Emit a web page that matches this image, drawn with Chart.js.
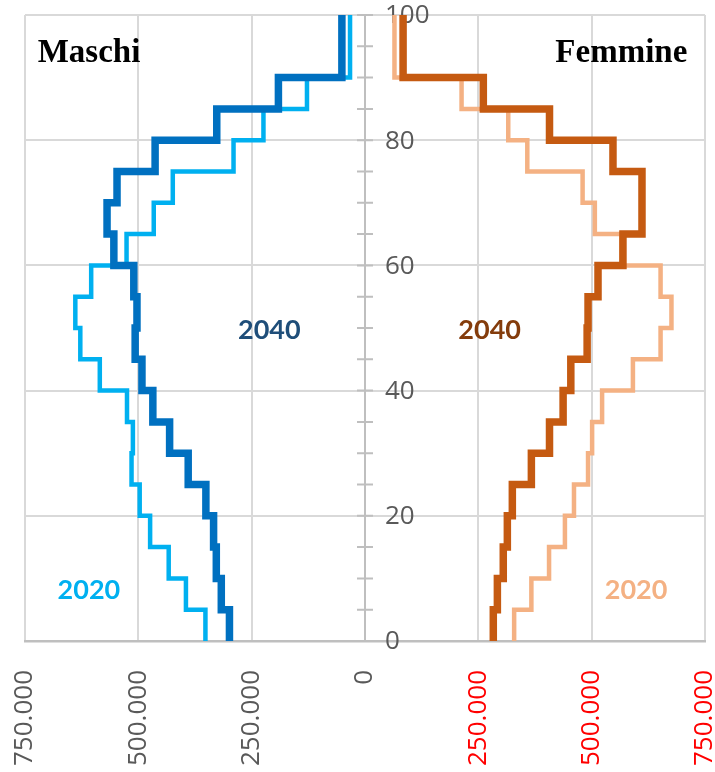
<!DOCTYPE html>
<html>
<head>
<meta charset="utf-8">
<script src="https://cdn.jsdelivr.net/npm/chart.js@4/dist/chart.umd.min.js"></script>
<style>
  html, body { margin: 0; padding: 0; background: #ffffff; }
  #wrap { width: 715px; height: 772px; }
</style>
</head>
<body>
<div id="wrap"><canvas id="c" width="715" height="772"></canvas></div>
<script>
// ---- data ----
// lower bound of each 5-year age group (last group = 90+)
const ageGroupStarts = [0, 5, 10, 15, 20, 25, 30, 35, 40, 45, 50, 55, 60, 65, 70, 75, 80, 85, 90];
const ageMax = 100;

const males2040   = [299000, 317000, 328000, 334000, 351000, 390000, 431000, 468000, 492000, 507000, 503000, 510000, 554000, 569000, 547000, 463000, 327000, 191000, 51000];
const males2020   = [352000, 395000, 433000, 474000, 497000, 515000, 512000, 525000, 585000, 628000, 639000, 604000, 526000, 466000, 424000, 290000, 224000, 128000, 33000];
const females2040 = [283000, 292000, 305000, 314000, 325000, 367000, 407000, 437000, 454000, 490000, 492000, 514000, 569000, 611000, 611000, 547000, 407000, 261000, 84000];
const females2020 = [329000, 367000, 406000, 441000, 461000, 492000, 501000, 523000, 591000, 652000, 676000, 652000, 566000, 507000, 480000, 358000, 316000, 213000, 65000];

const popTickValues = [-750000, -500000, -250000, 0, 250000, 500000, 750000];
const popTickLabels = ['750.000', '500.000', '250.000', '0', '250.000', '500.000', '750.000'];
const ageTickValues = [0, 20, 40, 60, 80, 100];
const ageMinorTicks = [5, 10, 15, 20, 25, 30, 35, 40, 45, 50, 55, 60, 65, 70, 75, 80, 85, 90, 95, 100];

// ---- helpers ----
function buildSteps(values, sign) {
  const pts = values.map((v, i) => ({ x: sign * v, y: ageGroupStarts[i] }));
  pts.push({ x: sign * values[values.length - 1], y: ageMax });
  return pts;
}

const annotations = [
  { text: 'Maschi',  x: -722000, y: 92.5, align: 'left',   color: '#000000', font: 'bold 33px "Liberation Serif"' },
  { text: 'Femmine', x: 711000,  y: 92.5, align: 'right',  color: '#000000', font: 'bold 33px "Liberation Serif"' },
  { text: '2040',    x: -211000, y: 48.2, align: 'center', color: '#1F4E79', font: 'bold 27px Lato' },
  { text: '2040',    x: 275000,  y: 48.2, align: 'center', color: '#843C0C', font: 'bold 27px Lato' },
  { text: '2020',    x: -609000, y: 6.7,  align: 'center', color: '#00B0F0', font: 'bold 27px Lato' },
  { text: '2020',    x: 598000,  y: 6.7,  align: 'center', color: '#F4B183', font: 'bold 27px Lato' }
];

const centerAxis = {
  id: 'centerAxis',
  beforeDatasetsDraw(chart) {
    const { ctx, scales: { x, y } } = chart;
    const x0 = x.getPixelForValue(0);
    ctx.save();
    ctx.strokeStyle = '#BFBFBF';
    ctx.lineWidth = 2;
    ctx.beginPath();
    ctx.moveTo(x0, y.getPixelForValue(y.min));
    ctx.lineTo(x0, y.getPixelForValue(y.max));
    for (const a of ageMinorTicks) {
      const py = y.getPixelForValue(a);
      ctx.moveTo(x0 - 8, py);
      ctx.lineTo(x0 + 8, py);
    }
    ctx.stroke();
    ctx.fillStyle = '#595959';
    ctx.font = '26px "Open Sans"';
    ctx.textAlign = 'left';
    ctx.textBaseline = 'middle';
    for (const t of y.ticks) {
      ctx.fillText(String(t.value), x0 + 20, y.getPixelForValue(t.value) + 1);
    }
    ctx.restore();
  },
  afterDatasetsDraw(chart) {
    const { ctx, scales: { x, y } } = chart;
    ctx.save();
    ctx.textBaseline = 'alphabetic';
    for (const a of annotations) {
      ctx.font = a.font;
      ctx.fillStyle = a.color;
      ctx.textAlign = a.align;
      ctx.fillText(a.text, x.getPixelForValue(a.x), y.getPixelForValue(a.y));
    }
    ctx.restore();
  }
};

const common = { pointRadius: 0, pointHoverRadius: 0, fill: false, stepped: 'after', tension: 0, borderJoinStyle: 'miter', borderCapStyle: 'butt' };

new Chart(document.getElementById('c'), {
  type: 'line',
  data: {
    datasets: [
      Object.assign({ label: 'Maschi 2040',  data: buildSteps(males2040, -1),  borderColor: '#0070C0', borderWidth: 7.5 }, common),
      Object.assign({ label: 'Femmine 2040', data: buildSteps(females2040, 1), borderColor: '#C55A11', borderWidth: 7.5 }, common),
      Object.assign({ label: 'Maschi 2020',  data: buildSteps(males2020, -1),  borderColor: '#00B0F0', borderWidth: 4.5 }, common),
      Object.assign({ label: 'Femmine 2020', data: buildSteps(females2020, 1), borderColor: '#F4B183', borderWidth: 4.5 }, common)
    ]
  },
  options: {
    responsive: false,
    animation: false,
    devicePixelRatio: 1,
    indexAxis: 'y',
    layout: { padding: { left: 25, right: 10, top: 15, bottom: 0 } },
    plugins: { legend: { display: false }, tooltip: { enabled: false } },
    scales: {
      x: {
        type: 'linear',
        position: 'bottom',
        min: -750000,
        max: 750000,
        afterBuildTicks: (s) => { s.ticks = popTickValues.map(v => ({ value: v })); },
        afterFit: (s) => { s.height = 131; s.paddingLeft = 0; s.paddingRight = 0; },
        ticks: {
          autoSkip: false,
          minRotation: 90,
          maxRotation: 90,
          padding: 29,
          font: { family: '"Open Sans"', size: 26 },
          color: (ctx) => (ctx.tick && ctx.tick.value > 0 ? '#FF0000' : '#595959'),
          callback: (v, i) => popTickLabels[i]
        },
        grid: { color: '#D9D9D9', lineWidth: 2, drawTicks: false },
        border: { display: true, color: '#BFBFBF', width: 2.5 }
      },
      y: {
        type: 'linear',
        position: 'left',
        min: 0,
        max: ageMax,
        afterBuildTicks: (s) => { s.ticks = ageTickValues.map(v => ({ value: v })); },
        afterFit: (s) => { s.width = 0; s.paddingTop = 0; s.paddingBottom = 0; },
        ticks: { display: false },
        grid: { color: '#D9D9D9', lineWidth: 2, drawTicks: false },
        border: { display: false }
      }
    }
  },
  plugins: [centerAxis]
});
</script>
</body>
</html>
